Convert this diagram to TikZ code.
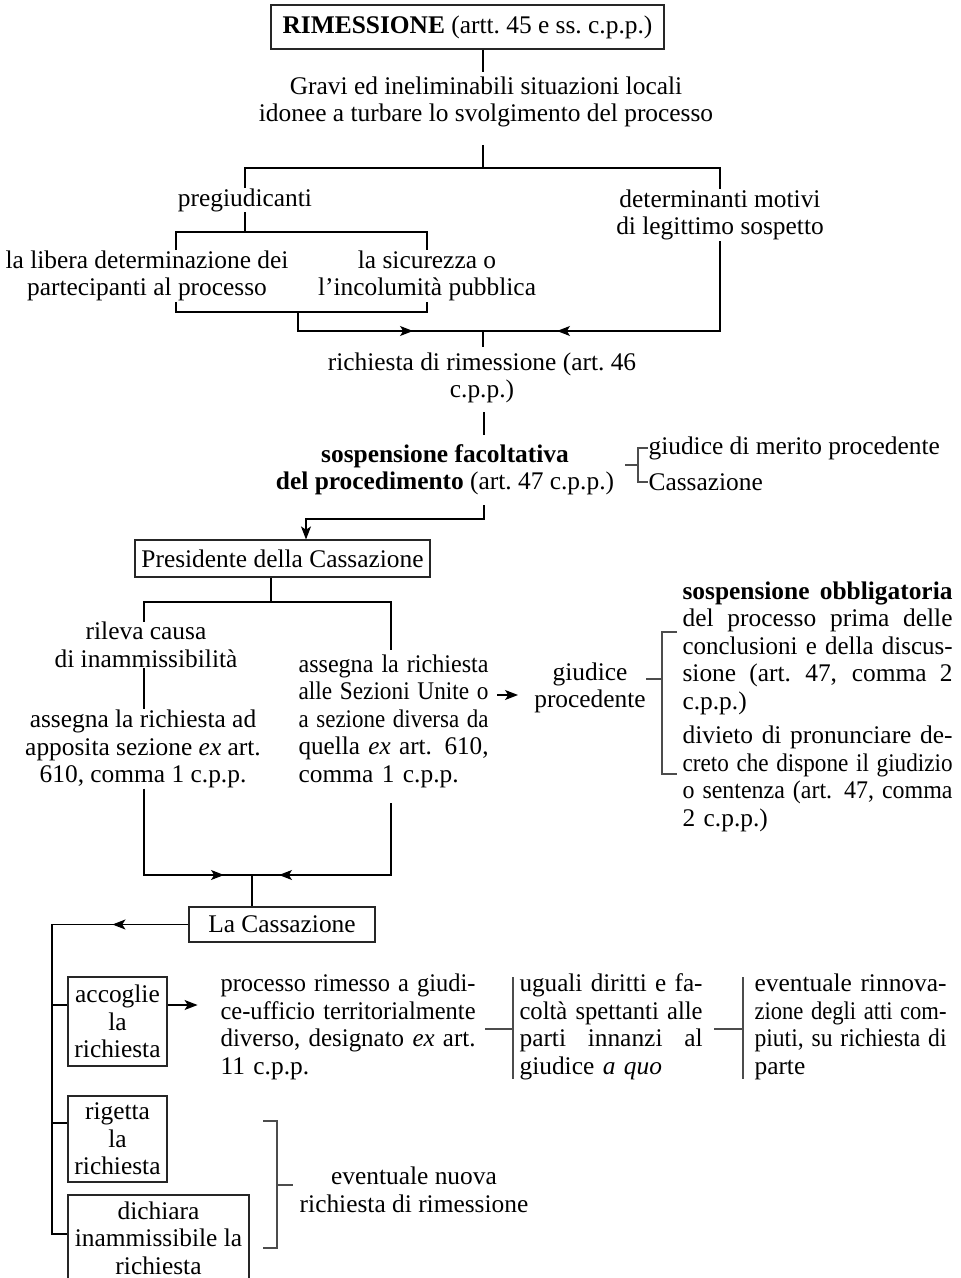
\documentclass[tikz,border=0pt]{standalone}
\usepackage{fontspec}
\setmainfont{Liberation Serif}
\usepackage{graphicx}
\usetikzlibrary{arrows.meta}

\newcommand\schemafont{\fontsize{12.7}{13.75}\selectfont}
\newlength\jw
\newcommand\jline[1]{\leavevmode\sbox0{#1}\ifdim\wd0>\jw\resizebox{\jw}{\height}{#1}\else\hbox to\jw{\spaceskip=.25em plus 1fil\xspaceskip=.3em plus 1fil\relax #1}\fi}

\begin{document}
\begin{tikzpicture}[x=0.5pt,y=-0.5pt,line width=0.55pt,
	>={Stealth[length=6.5pt,width=5pt,inset=1.6pt]},
	txt/.style={align=center,inner sep=0pt,font=\schemafont},
	box/.style={draw=black!85,txt},
	blk/.style={txt,align=left,anchor=west,text width=#1,execute at begin node={\setlength{\jw}{#1}}},
	brk/.style={black!70}]
	\useasboundingbox (0,0) rectangle (960,1278);
	% testa
	\node[box,minimum width=196.5pt,minimum height=22pt] (rim) at (467.5,27) {\textbf{RIMESSIONE} (artt.~45 e ss.~c.p.p.)};
	\node[txt] (gravi) at (486,102) {Gravi ed ineliminabili situazioni locali\\idonee a turbare lo svolgimento del processo};
	\coordinate (g1) at (483,72);
	\coordinate (g2) at (483,145);
	\coordinate (g3) at (483,168);
	\draw (rim.south -| g1) -- (g1);
	\draw (g2) -- (g3);
	\node[txt] (preg) at (245,200) {pregiudicanti};
	\node[txt] (motivi) at (720,215) {determinanti motivi\\di legittimo sospetto};
	\draw (preg.north) -- (preg.north |- g3) -- (motivi.north |- g3) -- (motivi.north);
	% pregiudicanti
	\node[txt] (libera) at (147,276) {la libera determinazione dei\\partecipanti al processo};
	\node[txt] (sicur) at (427,276) {la sicurezza o\\l'incolumità pubblica};
	\coordinate (p1) at (176,232);
	\coordinate (p2) at (427,232);
	\coordinate (p3) at (176,312);
	\coordinate (p4) at (427,312);
	\coordinate (p5) at (298,312);
	\draw (preg.south) -- (preg.south |- p1);
	\draw (libera.north -| p1) -- (p1) -- (p2) -- (sicur.north -| p2);
	\draw (libera.south -| p3) -- (p3) -- (p4) -- (sicur.south -| p4);
	% richiesta
	\coordinate (r0) at (483,331);
	\coordinate (r1) at (298,331);
	\coordinate (r2) at (720,331);
	\draw (p5) -- (r1) -- (r2) -- (motivi.south -| r2);
	\draw[->] (r1) -- ++(115,0);
	\draw[->] (r2) -- ++(-163,0);
	\draw (r0) -- ++(0,16);
	\node[txt] (richiesta) at (482,378) {richiesta di rimessione (art.~46\\c.p.p.)};
	\coordinate (s1) at (484,412);
	\draw (s1) -- ++(0,23);
	\node[txt] (facolt) at (445,470) {\textbf{sospensione facoltativa}\\\textbf{del procedimento} (art.~47 c.p.p.)};
	\node[txt,anchor=west] (merito) at (648,448) {giudice di merito procedente};
	\node[txt,anchor=west] (cassaz) at (648,482) {Cassazione};
	\coordinate (f1) at (625,465);
	\draw[brk] (merito.west) -- ++(-10,0) coordinate (f2) |- (cassaz.west);
	\draw[brk] (f1) -- (f1 -| f2);
	% presidente
	\node[box,minimum width=147.5pt,minimum height=18.5pt] (pres) at (282.5,558.5) {Presidente della Cassazione};
	\coordinate (s2) at (484,505);
	\coordinate (s3) at (306,519);
	\draw[->] (s2) |- (s3) -- (pres.north -| s3);
	\node[txt] (rileva) at (146,645) {rileva causa\\di inammissibilità};
	\node[txt] (assad) at (143,749) {assegna la richiesta ad\\apposita sezione \emph{ex} art.\\610, comma 1 c.p.p.};
	\node[blk=95pt] (assu) at (298,721) {\jline{assegna la richiesta}\\\jline{alle Sezioni Unite o}\\\jline{a sezione diversa da}\\\jline{quella \emph{ex} art. 610,}\\comma 1 c.p.p.};
	\coordinate (q1) at (271,602);
	\coordinate (qL) at (144,602);
	\coordinate (qR) at (391,602);
	\coordinate (q2) at (391,650);
	\coordinate (q3) at (391,803);
	\draw (pres.south -| q1) -- (q1);
	\draw (rileva.north -| qL) -- (qL) -- (qR) -- (q2);
	\draw (rileva.south -| qL) -- (assad.north -| qL);
	% giudice procedente
	\node[txt] (giud) at (590,688) {giudice\\procedente};
	\coordinate (h1) at (497,695);
	\draw[->] (h1) -- ++(21,0);
	\node[blk=135pt] (obbl) at (682,648) {\jline{\textbf{sospensione obbligatoria}}\\\jline{del processo prima delle}\\\jline{conclusioni e della discus-}\\\jline{sione (art. 47, comma 2}\\c.p.p.)};
	\node[blk=135pt] (div) at (682,779) {\jline{divieto di pronunciare de-}\\\jline{creto che dispone il giudizio}\\\jline{o sentenza (art. 47, comma}\\2 c.p.p.)};
	\coordinate (k0) at (646,679);
	\coordinate (k1) at (662,632);
	\coordinate (k2) at (662,774);
	\draw[brk] (k0) -- (k0 -| k1);
	\draw[brk] (k1) ++(15,0) -- (k1) -- (k2) -- ++(15,0);
	% la Cassazione
	\node[box,minimum width=93pt,minimum height=17.5pt] (cass) at (282,924.5) {La Cassazione};
	\coordinate (u0) at (252,875);
	\coordinate (u1) at (144,875);
	\coordinate (u2) at (391,875);
	\draw (assad.south -| u1) -- (u1) -- (u2) -- (q3);
	\draw[->] (u1) -- ++(80,0);
	\draw[->] (u2) -- ++(-112,0);
	\draw (u0) -- (cass.north -| u0);
	\node[box,minimum width=49.5pt,minimum height=44.5pt] (acc) at (117.5,1021.5) {accoglie\\la\\richiesta};
	\node[box,minimum width=49.5pt,minimum height=43pt] (rig) at (117.5,1139) {rigetta\\la\\richiesta};
	\node[box,minimum width=90.5pt,minimum height=43pt] (dich) at (158.5,1238) {dichiara\\inammissibile la\\richiesta};
	\coordinate (w1) at (52,1005);
	\coordinate (w2) at (52,1123);
	\coordinate (w3) at (52,1234);
	\draw (cass.west) -| (w3) -- (w3 -| dich.west);
	\draw[->] (cass.west) -- ++(-76,0);
	\draw (w1) -- (w1 -| acc.west);
	\draw (w2) -- (w2 -| rig.west);
	\draw[->] (acc.east |- w1) -- ++(30,0);
	% esito
	\node[blk=127.5pt] (proc) at (220,1027) {\jline{processo rimesso a giudi-}\\\jline{ce-ufficio territorialmente}\\\jline{diverso, designato \emph{ex} art.}\\11 c.p.p.};
	\node[blk=91.5pt] (ugu) at (519,1027) {\jline{uguali diritti e fa-}\\\jline{coltà spettanti alle}\\\jline{parti innanzi al}\\giudice \emph{a quo}};
	\node[blk=96pt] (ev) at (754,1027) {\jline{eventuale rinnova-}\\\jline{zione degli atti com-}\\\jline{piuti, su richiesta di}\\parte};
	\coordinate (m0) at (485,1029);
	\coordinate (m1) at (513,977);
	\coordinate (m2) at (513,1079);
	\coordinate (n0) at (714,1029);
	\coordinate (n1) at (743,977);
	\coordinate (n2) at (743,1079);
	\draw[brk] (m0) -- (m0 -| m1);
	\draw[brk] (m1) -- (m2);
	\draw[brk] (n0) -- (n0 -| n1);
	\draw[brk] (n1) -- (n2);
	% nuova richiesta
	\node[txt] (nuova) at (414,1190) {eventuale nuova\\richiesta di rimessione};
	\coordinate (b1) at (263,1121);
	\coordinate (b2) at (277,1121);
	\coordinate (b3) at (277,1248);
	\coordinate (b4) at (263,1248);
	\coordinate (b5) at (277,1185);
	\draw[brk] (b1) -- (b2) -- (b3) -- (b4);
	\draw[brk] (b5) -- ++(16,0);
\end{tikzpicture}
\end{document}
